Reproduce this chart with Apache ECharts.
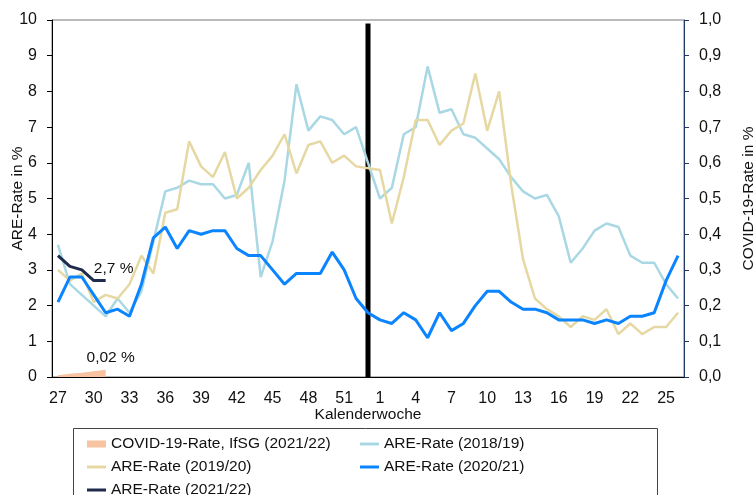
<!DOCTYPE html>
<html>
<head>
<meta charset="utf-8">
<script src="https://cdn.jsdelivr.net/npm/echarts@6/dist/echarts.min.js"></script>
<style>html,body{margin:0;padding:0;background:#fff}#c{width:756px;height:495px}</style>
</head>
<body>
<div id="c"></div>
<script>
var weeks = ['27','28','29','30','31','32','33','34','35','36','37','38','39','40','41','42','43','44','45','46','47','48','49','50','51','52','53',
  '1','2','3','4','5','6','7','8','9','10','11','12','13','14','15','16','17','18','19','20','21','22','23','24','25','26'];
var covid2122 = [0.005, 0.009, 0.012, 0.016, 0.02];
var are1819 = [3.7,2.6,2.3,2.0,1.7,2.2,1.8,2.4,3.8,5.2,5.3,5.5,5.4,5.4,5.0,5.1,6.0,2.8,3.8,5.5,8.2,6.9,7.3,7.2,6.8,7.0,null,
  5.0,5.3,6.8,7.0,8.7,7.4,7.5,6.8,6.7,6.4,6.1,5.6,5.2,5.0,5.1,4.5,3.2,3.6,4.1,4.3,4.2,3.4,3.2,3.2,2.6,2.2];
var are1920 = [3.0,2.7,2.9,2.1,2.3,2.2,2.6,3.4,2.9,4.6,4.7,6.6,5.9,5.6,6.3,5.0,5.3,5.8,6.2,6.8,5.7,6.5,6.6,6.0,6.2,5.9,null,
  5.8,4.3,5.6,7.2,7.2,6.5,6.9,7.1,8.5,6.9,8.0,5.4,3.3,2.2,1.9,1.7,1.4,1.7,1.6,1.9,1.2,1.5,1.2,1.4,1.4,1.8];
var are2021 = [2.1,2.8,2.8,2.3,1.8,1.9,1.7,2.6,3.9,4.2,3.6,4.1,4.0,4.1,4.1,3.6,3.4,3.4,3.0,2.6,2.9,2.9,2.9,3.5,3.0,2.2,1.8,
  1.6,1.5,1.8,1.6,1.1,1.8,1.3,1.5,2.0,2.4,2.4,2.1,1.9,1.9,1.8,1.6,1.6,1.6,1.5,1.6,1.5,1.7,1.7,1.8,2.7,3.4];
var are2122 = [3.4,3.1,3.0,2.7,2.7];
var yearBreakWeek = '53';
var yearBreakHeight = 9.9;
var labelAre = '2,7 %';
var labelCovid = '0,02 %';

var FONT = 'Liberation Sans, Arial, sans-serif';
var FS = 15.5;
var C_LB = '#A9D8E4', C_TAN = '#E6D8A2', C_BLUE = '#0A84FF', C_NAVY = '#1F2B4D', C_PEACH = '#F7C3A1';

function withLastLabel(arr, text, offset) {
  return arr.map(function (v, i) {
    if (i === arr.length - 1) {
      return { value: v, label: { show: true, formatter: text, position: 'top', distance: 4, offset: offset,
        color: '#111', fontSize: FS, fontFamily: FONT } };
    }
    return v;
  });
}
var barData = weeks.map(function (w) { return w === yearBreakWeek ? yearBreakHeight : null; });

var chart = echarts.init(document.getElementById('c'));
function lg(left, top, name, h) {
  return { orient: 'vertical', left: left, top: top, itemWidth: 19, itemHeight: h, padding: 0, selectedMode: false,
    data: [{ name: name, icon: 'rect' }],
    textStyle: { fontSize: FS, fontFamily: FONT, color: '#111', lineHeight: 16 } };
}
chart.setOption({
  animation: false,
  textStyle: { fontFamily: FONT },
  grid: { left: 52, right: 72, top: 20, bottom: 118, outerBoundsMode: 'none', containLabel: false,
    show: true, borderColor: '#777', borderWidth: 1, backgroundColor: 'transparent' },
  graphic: [{ type: 'rect', shape: { x: 73.5, y: 428.5, width: 584, height: 80 }, style: { fill: 'none', stroke: '#444', lineWidth: 1 }, silent: true }],
  legend: [
    lg(87, 436, 'COVID-19-Rate, IfSG (2021/22)', 7),
    lg(360, 436, 'ARE-Rate (2018/19)', 3),
    lg(87, 459, 'ARE-Rate (2019/20)', 3),
    lg(360, 459, 'ARE-Rate (2020/21)', 3),
    lg(87, 482, 'ARE-Rate (2021/22)', 3)
  ],
  xAxis: {
    type: 'category', data: weeks, boundaryGap: true,
    name: 'Kalenderwoche', nameLocation: 'middle', nameGap: 30, nameMoveOverlap: false,
    nameTextStyle: { fontSize: FS, color: '#111', fontFamily: FONT },
    axisLine: { lineStyle: { color: '#000', width: 1 } },
    axisTick: { interval: 0, length: 5, lineStyle: { color: '#000' } },
    axisLabel: { interval: 2, fontSize: 16, color: '#111', margin: 14, fontFamily: FONT },
    splitLine: { show: false }
  },
  yAxis: [
    { type: 'value', min: 0, max: 10, interval: 1, position: 'left',
      name: 'ARE-Rate in %', nameLocation: 'middle', nameRotate: 90, nameGap: 26, nameMoveOverlap: false,
      nameTextStyle: { fontSize: FS, color: '#111', fontFamily: FONT },
      axisLine: { show: true, lineStyle: { color: '#000', width: 1 } },
      axisTick: { show: true, length: 5, lineStyle: { color: '#000' } },
      axisLabel: { fontSize: 16, color: '#111', margin: 15, fontFamily: FONT },
      splitLine: { show: false } },
    { type: 'value', min: 0, max: 1, interval: 0.1, position: 'right',
      name: 'COVID-19-Rate in %', nameLocation: 'middle', nameRotate: 90, nameGap: 57, nameMoveOverlap: false,
      nameTextStyle: { fontSize: FS, color: '#111', fontFamily: FONT },
      axisLine: { show: true, lineStyle: { color: '#1F3864', width: 1 } },
      axisTick: { show: true, length: 5, lineStyle: { color: '#1F3864' } },
      axisLabel: { fontSize: 16, color: '#111', margin: 15, fontFamily: FONT,
        formatter: function (v) { return v.toFixed(1).replace('.', ','); } },
      splitLine: { show: false } }
  ],
  series: [
    { name: 'Jahreswechsel', type: 'bar', data: barData, barWidth: 5, itemStyle: { color: '#000' }, z: 1, silent: true },
    { name: 'COVID-19-Rate, IfSG (2021/22)', type: 'line', yAxisIndex: 1, data: withLastLabel(covid2122, labelCovid, [5, 0]),
      symbol: 'circle', symbolSize: 0.01, showSymbol: true, lineStyle: { width: 0, color: C_PEACH }, itemStyle: { color: C_PEACH },
      areaStyle: { color: C_PEACH, opacity: 1 }, z: 2 },
    { name: 'ARE-Rate (2018/19)', type: 'line', data: are1819, connectNulls: true, symbol: 'none',
      lineStyle: { width: 2.5, color: C_LB }, itemStyle: { color: C_LB }, z: 3 },
    { name: 'ARE-Rate (2019/20)', type: 'line', data: are1920, connectNulls: true, symbol: 'none',
      lineStyle: { width: 2.5, color: C_TAN }, itemStyle: { color: C_TAN }, z: 3 },
    { name: 'ARE-Rate (2020/21)', type: 'line', data: are2021, symbol: 'none',
      lineStyle: { width: 3, color: C_BLUE }, itemStyle: { color: C_BLUE }, z: 4 },
    { name: 'ARE-Rate (2021/22)', type: 'line', data: withLastLabel(are2122, labelAre, [8, 0]),
      symbol: 'circle', symbolSize: 0.01, showSymbol: true,
      lineStyle: { width: 3, color: C_NAVY }, itemStyle: { color: C_NAVY }, z: 5 }
  ]
});
</script>
</body>
</html>
